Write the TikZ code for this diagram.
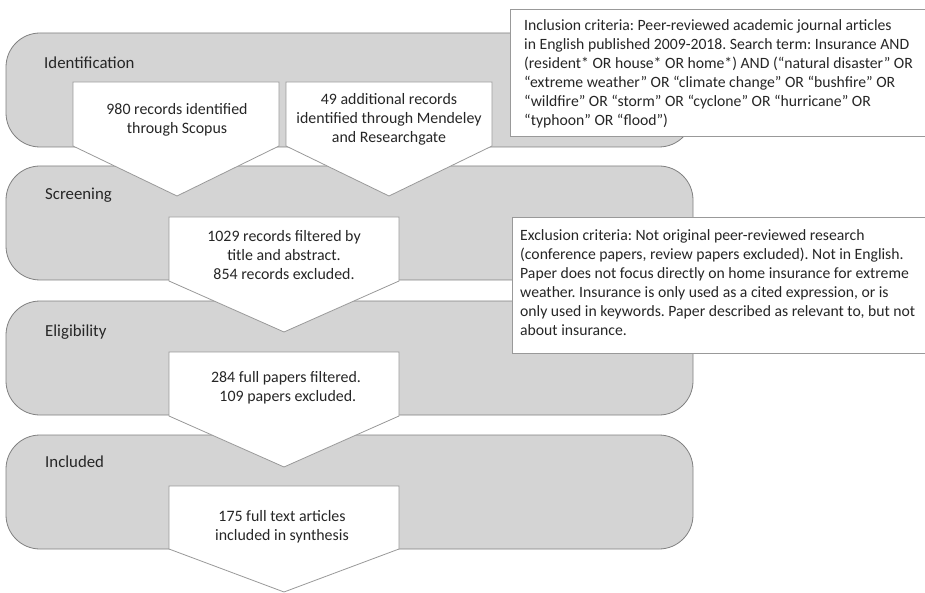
\documentclass[tikz,border=0pt]{standalone}
\usepackage{fontspec}
\setmainfont{Carlito}
\frenchspacing
\begin{document}
\begin{tikzpicture}[x=1pt,y=-1pt,
  every node/.style={text=black!85},
  band/.style={draw=black!50, fill=black!17, line width=0.8pt, rounded corners=34pt},
  chev/.style={draw=black!40, fill=white, line width=0.8pt},
  crit/.style={draw=black!40, fill=white, line width=0.8pt},
  lbl/.style={anchor=west, inner sep=0pt, font=\fontsize{16.8}{20}\selectfont},
  txt/.style={align=center, inner sep=0pt, font=\fontsize{15.9}{19}\selectfont},
  ctxt/.style={align=left, anchor=north west, inner sep=0pt, font=\fontsize{15.7}{19}\selectfont}]
\useasboundingbox (0,0) rectangle (925,593);
\fill[white] (0,0) rectangle (925,593);
% bands
\draw[band] (6,33) rectangle (693,147);
\draw[band] (6,166) rectangle (693,280);
\draw[band] (6,301) rectangle (693,415);
\draw[band] (6,435) rectangle (693,549);
\node[lbl] (lid) at (44,63) {Identification};
\node[lbl] (lsc) at (45,195) {Screening};
\node[lbl] (lel) at (45,332) {Eligibility};
\node[lbl] (lin) at (45,462) {Included};
% chevrons
\draw[chev] (73,82) -- (279,82) -- (279,146) -- (177,196) -- (73,146) -- cycle;
\draw[chev] (286,82) -- (492,82) -- (492,146) -- (389,196) -- (286,146) -- cycle;
\draw[chev] (169,217) -- (399,217) -- (399,281) -- (284,332) -- (169,281) -- cycle;
\draw[chev] (169,352) -- (399,352) -- (399,416) -- (284,467) -- (169,416) -- cycle;
\draw[chev] (169,486) -- (399,486) -- (399,549) -- (284,592) -- (169,549) -- cycle;
\node[txt] (b1) at (177,119.5) {980 records identified\\through Scopus};
\node[txt] (b2) at (389,119) {49 additional records\\identified through Mendeley\\and Researchgate};
\node[txt] (b3) at (284,255) {1029 records filtered by\\title and abstract.\\854 records excluded.};
\node[txt] (b4) at (286,387.5) {284 full papers filtered.\\\ 109 papers excluded.};
\node[txt] (b5) at (282,526.5) {175 full text articles\\included in synthesis};
% criteria boxes
\draw[crit] (510,9) rectangle (925,136);
\draw[crit] (512,217) rectangle (925,353);
\node[ctxt] (inc) at (524,19) {Inclusion criteria: Peer-reviewed academic journal articles\\
in English published 2009-2018. Search term: Insurance AND\\
(resident* OR house* OR home*) AND (“natural disaster” OR\\
“extreme weather” OR “climate change” OR “bushfire” OR\\
“wildfire” OR “storm” OR “cyclone” OR “hurricane” OR\\
“typhoon” OR “flood”)};
\node[ctxt] (exc) at (520,229) {Exclusion criteria: Not original peer-reviewed research\\
(conference papers, review papers excluded). Not in English.\\
Paper does not focus directly on home insurance for extreme\\
weather. Insurance is only used as a cited expression, or is\\
only used in keywords. Paper described as relevant to, but not\\
about insurance.};
\end{tikzpicture}
\end{document}
